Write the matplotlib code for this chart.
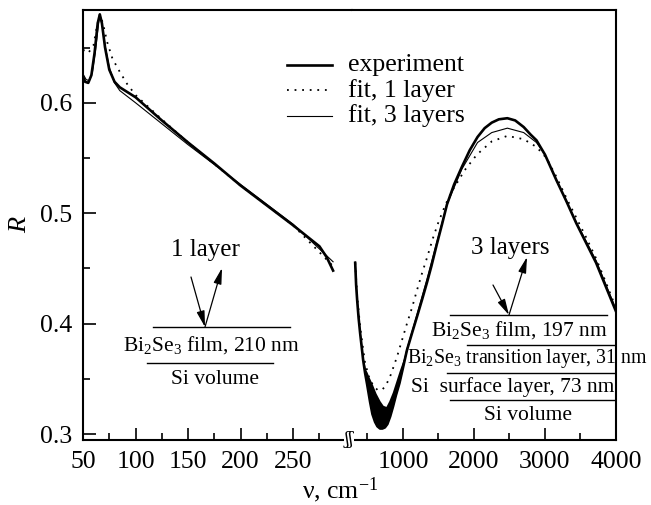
import numpy as np
import matplotlib
matplotlib.use("Agg")
import matplotlib.pyplot as plt
from matplotlib.lines import Line2D
from matplotlib.patches import FancyArrowPatch

plt.rcParams['font.family'] = ['Liberation Serif', 'DejaVu Serif']
plt.rcParams['mathtext.fontset'] = 'custom'
plt.rcParams['mathtext.rm'] = 'Liberation Serif'
plt.rcParams['mathtext.it'] = 'Liberation Serif:italic'

# ---- left segment (50 - 300 cm^-1) ----
nu_exp_L = [50, 52, 55, 58, 61, 64, 66, 68, 71, 75, 80, 85, 90, 100, 125, 150, 175, 200, 225, 250, 275, 282, 288]
R_exp_L = [0.624, 0.619, 0.618, 0.625, 0.645, 0.672, 0.680, 0.672, 0.650, 0.630, 0.619, 0.614, 0.611, 0.605,
           0.584, 0.564, 0.545, 0.525, 0.507, 0.489, 0.470, 0.460, 0.448]

nu_f1_L = [50, 55, 60, 63, 66, 69, 73, 78, 85, 92, 100, 125, 150, 200, 250, 288]
R_f1_L = [0.648, 0.645, 0.652, 0.668, 0.680, 0.672, 0.655, 0.640, 0.628, 0.617, 0.607, 0.585, 0.564, 0.525,
          0.489, 0.452]

nu_f3_L = [50, 53, 56, 59, 62, 65, 66, 68, 71, 75, 80, 85, 100, 150, 200, 250, 288]
R_f3_L = [0.626, 0.621, 0.620, 0.628, 0.648, 0.673, 0.679, 0.673, 0.652, 0.632, 0.618, 0.611, 0.600, 0.562,
          0.526, 0.490, 0.456]

# ---- right segment (300 - 4000 cm^-1) ----
nu_exp_R = [327, 340, 355, 375, 397, 420, 439, 467, 495, 537, 570, 607, 640, 677, 710, 745, 780, 820, 860,
            900, 950, 1000, 1056, 1130, 1196, 1270, 1337, 1400, 1477, 1550, 1620, 1720, 1830, 1940, 2050,
            2150, 2250, 2350, 2470, 2580, 2700, 2800, 2880, 3000, 3160, 3300, 3440, 3580, 3720, 3860, 4000]
R_exp_R = [0.455, 0.435, 0.421, 0.405, 0.391, 0.378, 0.367, 0.355, 0.345, 0.329, 0.318, 0.311, 0.307, 0.305,
           0.305, 0.306, 0.309, 0.316, 0.325, 0.335, 0.346, 0.360, 0.376, 0.392, 0.406, 0.422, 0.437, 0.452,
           0.472, 0.490, 0.508, 0.526, 0.542, 0.557, 0.569, 0.577, 0.582, 0.585, 0.586, 0.584, 0.578, 0.571,
           0.566, 0.553, 0.530, 0.511, 0.491, 0.473, 0.455, 0.433, 0.411]

# upper envelope of the fast oscillations near the minimum
nu_blob = [460, 495, 520, 570, 620, 677, 720, 760, 800, 850, 900, 950, 1000, 1056]
R_blob_top = [0.360, 0.356, 0.352, 0.345, 0.337, 0.330, 0.326, 0.325, 0.330, 0.338, 0.348, 0.358, 0.367, 0.377]

nu_f1_R = [327, 355, 397, 439, 467, 520, 579, 640, 705, 760, 830, 916, 1000, 1056, 1130, 1196, 1270, 1340,
           1420, 1500, 1600, 1700, 1870, 2040, 2250, 2470, 2700, 2880, 3020, 3160, 3300, 3440, 3580, 3720,
           3860, 4000]
R_f1_R = [0.455, 0.425, 0.397, 0.377, 0.364, 0.352, 0.344, 0.340, 0.340, 0.344, 0.354, 0.370, 0.388, 0.400,
          0.415, 0.430, 0.446, 0.460, 0.477, 0.492, 0.508, 0.521, 0.539, 0.553, 0.565, 0.570, 0.567, 0.560,
          0.550, 0.533, 0.514, 0.496, 0.478, 0.459, 0.437, 0.414]

nu_f3_R = [327, 355, 397, 439, 495, 537, 607, 677, 740, 800, 860, 950, 1056, 1196, 1337, 1477, 1620, 1830,
           2050, 2250, 2470, 2700, 2880, 3000, 3160, 3440, 3720, 4000]
R_f3_R = [0.456, 0.422, 0.392, 0.369, 0.350, 0.338, 0.327, 0.320, 0.319, 0.323, 0.331, 0.348, 0.377, 0.408,
          0.440, 0.474, 0.508, 0.540, 0.564, 0.573, 0.577, 0.573, 0.564, 0.553, 0.530, 0.492, 0.457, 0.413]

W, H = 651, 505
fig = plt.figure(figsize=(W / 100, H / 100), dpi=100)


def fx(x):
    return x / W


def fy(y):
    return 1 - y / H


x0, xb, x1 = 83, 352, 616
ytop, ybot = 10, 440
ax1 = fig.add_axes([fx(x0), fy(ybot), (xb - x0) / W, (ybot - ytop) / H])
ax2 = fig.add_axes([fx(xb), fy(ybot), (x1 - xb) / W, (ybot - ytop) / H])

lw_exp, lw_fit = 1.9, 0.8
dots = (0, (1, 3.2))

ax1.plot(nu_exp_L, R_exp_L, color='black', lw=lw_exp)
ax1.plot(nu_f1_L, R_f1_L, color='black', lw=1.3, linestyle=dots)
ax1.plot(nu_f3_L, R_f3_L, color='black', lw=lw_fit)

ax2.plot(nu_exp_R, R_exp_R, color='black', lw=lw_exp)
ax2.fill_between(nu_blob, np.interp(nu_blob, nu_exp_R, R_exp_R), R_blob_top, color='black', lw=0)
ax2.plot(nu_f1_R, R_f1_R, color='black', lw=1.3, linestyle=dots)
ax2.plot(nu_f3_R, R_f3_R, color='black', lw=lw_fit)

for ax in (ax1, ax2):
    ax.set_ylim(0.2946, 0.684)
    for s in ax.spines.values():
        s.set_linewidth(1.5)
    ax.tick_params(direction='in', which='both', labelsize=18.5, width=1.2, pad=8)
    ax.tick_params(which='major', length=9)
    ax.tick_params(which='minor', length=5)

ax1.set_xlim(50, 306)
ax1.spines['right'].set_visible(False)
ax1.set_xticks([50, 100, 150, 200, 250])
ax1.set_xticks([75, 125, 175, 225, 275], minor=True)
ax1.set_yticks([0.3, 0.4, 0.5, 0.6])
ax1.set_yticklabels(['0.3', '0.4', '0.5', '0.6'])
ax1.set_yticks([0.35, 0.45, 0.55, 0.65], minor=True)
ax1.tick_params(axis='y', which='both', right=False)
ax1.set_ylabel('R', style='italic', fontsize=19, labelpad=6)

ax2.set_xlim(282, 4000)
ax2.spines['left'].set_visible(False)
ax2.set_xticks([1000, 2000, 3000, 4000])
ax2.set_xticks([500, 1500, 2500, 3500], minor=True)
ax2.set_yticks([])
ax2.set_yticks([], minor=True)

fig.text(fx(340), fy(490), 'ν, cm$^{-1}$', fontsize=18.5, ha='center', va='center')

# axis break mark
fig.text(fx(349), fy(440), 'ʃʃ', fontsize=12, ha='center', va='center',
         family=['DejaVu Serif'], bbox=dict(fc='white', ec='none', pad=0.3))

# legend
leg_items = [('experiment', dict(lw=lw_exp)), ('fit, 1 layer', dict(lw=1.3, linestyle=dots)),
             ('fit, 3 layers', dict(lw=lw_fit))]
for i, (lab, kw) in enumerate(leg_items):
    yy = 65 + 25.5 * i
    fig.add_artist(Line2D([fx(287), fx(332)], [fy(yy), fy(yy)], color='black', transform=fig.transFigure, **kw))
    fig.text(fx(348), fy(yy), lab, fontsize=18.5, va='center', ha='left')


def hline(xa, xb_, y):
    fig.add_artist(Line2D([fx(xa), fx(xb_)], [fy(y), fy(y)], color='black', lw=1.0,
                          transform=fig.transFigure))


def arrow(xs, ys, xe, ye):
    fig.add_artist(FancyArrowPatch((fx(xs), fy(ys)), (fx(xe), fy(ye)), transform=fig.transFigure,
                                   arrowstyle='-|>,head_length=0.8,head_width=0.2', shrinkA=0, shrinkB=0,
                                   mutation_scale=12, lw=0.9, color='black'))


# 1 layer scheme
fig.text(fx(205), fy(250), '1 layer', fontsize=18, ha='center', va='center')
arrow(191, 277, 205, 327)
arrow(205, 327, 222, 268)
hline(153, 290, 327)
fig.text(fx(211), fy(345), 'Bi$_2$Se$_3$ film, 210 nm', fontsize=15.5, ha='center', va='center')
hline(147, 273, 363)
fig.text(fx(215), fy(380), 'Si volume', fontsize=15.5, ha='center', va='center')

# 3 layers scheme
fig.text(fx(510), fy(248), '3 layers', fontsize=18, ha='center', va='center')
arrow(493, 285, 509, 315)
arrow(509, 315, 527, 257)
hline(450, 607, 315)
fig.text(fx(519), fy(330), 'Bi$_2$Se$_3$ film, 197 nm', fontsize=15.5, ha='center', va='center')
hline(467, 615, 345)
fig.text(fx(527), fy(358), 'Bi$_2$Se$_3$ transition layer, 31 nm', fontsize=14.3, ha='center', va='center')
hline(447, 615, 373)
fig.text(fx(513), fy(387), 'Si  surface layer, 73 nm', fontsize=15.5, ha='center', va='center')
hline(450, 615, 400)
fig.text(fx(528), fy(415), 'Si volume', fontsize=15.5, ha='center', va='center')

fig.savefig('out.png', dpi=100)
